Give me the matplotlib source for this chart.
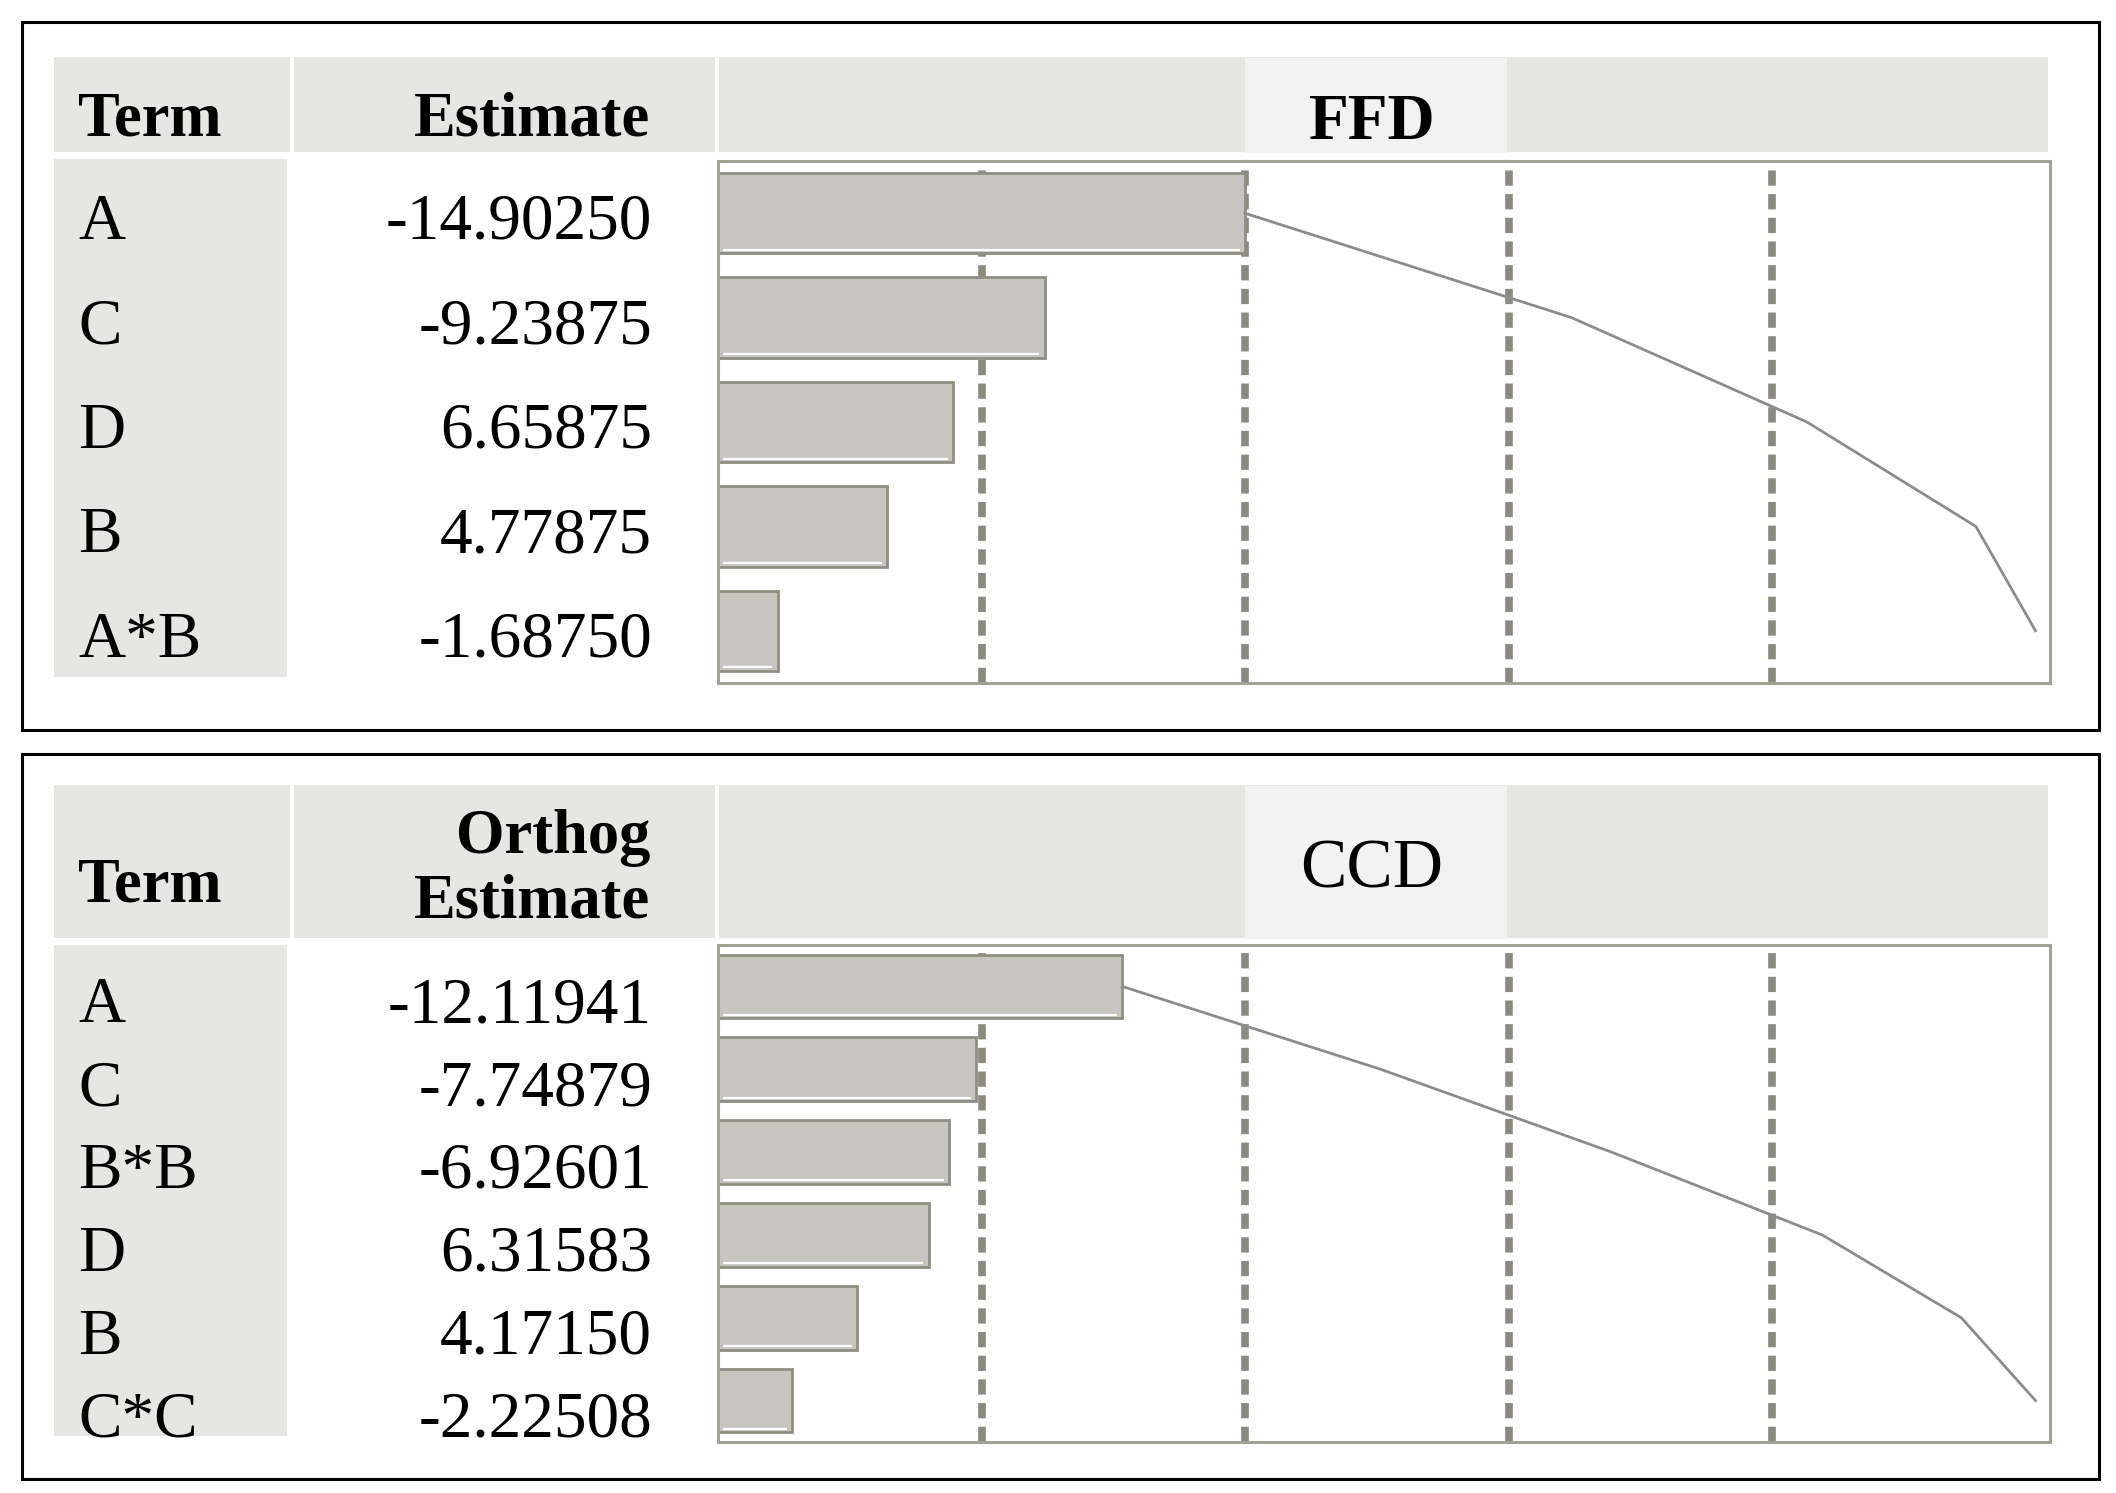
import numpy as np
import matplotlib
matplotlib.use('Agg')
from matplotlib import pyplot as plt
from matplotlib.patches import Rectangle
import matplotlib.transforms as mtransforms

plt.rcParams['font.family'] = ['Liberation Serif', 'DejaVu Serif']

# data
ffd_terms = ["A", "C", "D", "B", "A*B"]
ffd_est = [-14.90250, -9.23875, 6.65875, 4.77875, -1.68750]

ccd_terms = ["A", "C", "B*B", "D", "B", "C*C"]
ccd_est = [-12.11941, -7.74879, -6.92601, 6.31583, 4.17150, -2.22508]

guides = [20, 40, 60, 80]  # percent of total |estimate|

W, H = 2116, 1493
fig = plt.figure(figsize=(W / 100, H / 100), dpi=100)

HEAD_GRAY = "#e6e6e4"
LIGHT = "#f2f2f2"
BAR = "#c6c6be"
BAR_EDGE = "#8e8e82"
FRAME = "#a3a395"
DASH = "#8a8a7e"
LINE = "#8c8c8c"


def fx(x):
    return x / W


def fy(y):
    return 1 - y / H


def rect(x0, y0, x1, y1, **kw):
    fig.patches.append(Rectangle((fx(x0), fy(y1)), (x1 - x0) / W, (y1 - y0) / H,
                                 transform=fig.transFigure, **kw))


def draw_panel(terms, est, box, head, plot, body, term_base, est_lines, title,
               title_base, title_bold, text_drop):
    # outer black box
    rect(box[0], box[1], box[2], box[3], facecolor="none", edgecolor="black", lw=2.2, zorder=1)
    # header cells
    rect(54, head[0], 290, head[1], facecolor=HEAD_GRAY, edgecolor="none", zorder=0)
    rect(294, head[0], 715, head[1], facecolor=HEAD_GRAY, edgecolor="none", zorder=0)
    rect(719, head[0], 2048, head[1], facecolor=HEAD_GRAY, edgecolor="none", zorder=0)
    rect(1245, head[0] + 1, 1507, head[1] + 1, facecolor=LIGHT, edgecolor="none", zorder=0.5)
    # term column body
    rect(54, body[0], 287, body[1], facecolor=HEAD_GRAY, edgecolor="none", zorder=0)

    fig.text(fx(78), fy(term_base), "Term", fontsize=45, fontweight="bold",
             ha="left", va="baseline")
    for txt, yb in est_lines:
        fig.text(fx(650), fy(yb), txt, fontsize=45, fontweight="bold",
                 ha="right", va="baseline")
    fig.text(fx(1372), fy(title_base), title, fontsize=47 if title_bold else 50,
             fontweight="bold" if title_bold else "normal", ha="center", va="baseline")

    ax = fig.add_axes([fx(718), fy(plot[1]), (2050 - 718) / W, (plot[1] - plot[0]) / H])
    ax.set_facecolor("white")

    vals = np.array(est)
    pct = np.abs(vals) / np.abs(vals).sum() * 100
    cum = np.cumsum(pct)
    y = np.arange(len(terms))
    n = len(terms)
    bh = 0.77

    for g in guides:
        ax.axvline(g, color=DASH, lw=5.5, linestyle=(0, (2.0, 1.1)), zorder=1)

    ax.barh(y, pct, height=bh, color=BAR, edgecolor=BAR_EDGE, lw=2, zorder=2)
    # white highlight just inside the bottom edge of each bar
    off = mtransforms.offset_copy(ax.transData, fig=fig, y=3.5, units="dots")
    ax.hlines(y + bh / 2, 0.4, pct - 0.4, colors="white", lw=1.6, transform=off, zorder=3)

    ax.plot(cum, y, color=LINE, lw=2, zorder=4)

    ax.set_xlim(0, 101.1)
    ax.set_ylim(n - 0.5, -0.5)
    ax.set_xticks([])
    ax.set_yticks([])
    for sp in ax.spines.values():
        sp.set_color(FRAME)
        sp.set_linewidth(2.2)

    row_tr = mtransforms.blended_transform_factory(fig.transFigure, ax.transData)
    row_tr = mtransforms.offset_copy(row_tr, fig=fig, y=-text_drop, units="dots")
    for i, (t, v) in enumerate(zip(terms, est)):
        fig.text(fx(78), i, t, fontsize=47, ha="left", va="center", transform=row_tr)
        fig.text(fx(652), i, f"{v:.5f}", fontsize=47, ha="right", va="center", transform=row_tr)
    return ax


draw_panel(ffd_terms, ffd_est, box=(22, 22, 2099, 730), head=(57, 152), plot=(161, 683),
           body=(159, 677), term_base=136, est_lines=[("Estimate", 136)],
           title="FFD", title_base=139, title_bold=True, text_drop=10)

draw_panel(ccd_terms, ccd_est, box=(22, 754, 2099, 1479), head=(785, 938), plot=(945, 1442),
           body=(945, 1436), term_base=901, est_lines=[("Orthog", 853), ("Estimate", 918)],
           title="CCD", title_base=887, title_bold=False, text_drop=20)

fig.savefig("out.png", dpi=100, facecolor="white")
